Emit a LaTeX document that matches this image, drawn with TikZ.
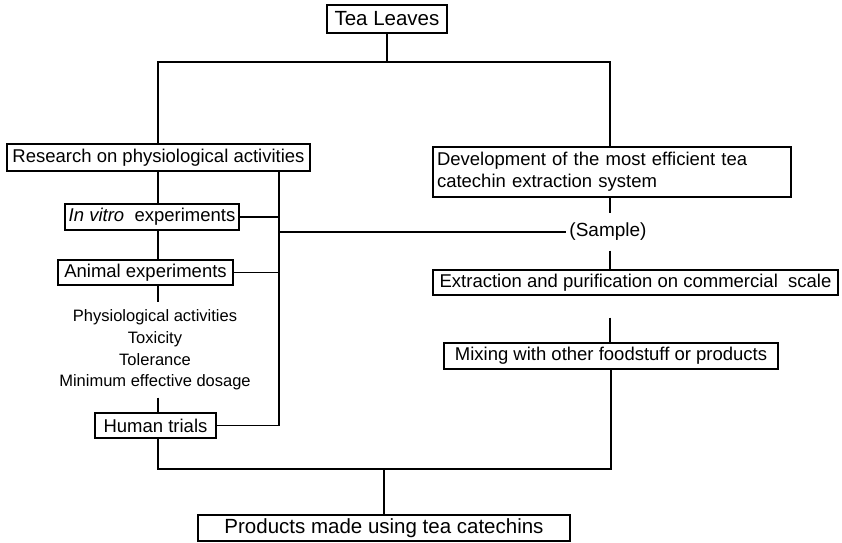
\documentclass[tikz,border=0pt]{standalone}
\usepackage{fontspec}
\setmainfont{Liberation Sans}

\begin{document}
\begin{tikzpicture}[x=1pt,y=-1pt,line width=1.3pt,
    stepbox/.style={draw,inner sep=0pt,font=\fontsize{18.5}{22}\selectfont},
    bigbox/.style={draw,inner sep=0pt,font=\fontsize{20.5}{24}\selectfont}]
                    \useasboundingbox (0,0) rectangle (842,542);
                    \node[bigbox,minimum width=120pt,minimum height=28pt] (tea) at (387,19) {Tea Leaves};
                    \node[stepbox,minimum width=303pt,minimum height=27pt] (research) at (158.5,157.5) {Research on physiological activities};
                    \node[stepbox,text width=350pt,inner xsep=4pt,inner ysep=3pt,align=left,minimum height=50pt] (devel) at (612,172)
                        {Development of the most efficient tea\\catechin extraction system};
                    \node[stepbox,minimum width=174pt,minimum height=26pt] (invitro) at (152,217) {\textit{In vitro}\ \ experiments};
                    \node[stepbox,minimum width=175pt,minimum height=25pt] (animal) at (145.5,272.5) {Animal experiments};
                    \node[align=center,inner sep=0pt,minimum height=94pt,font=\fontsize{16.5}{21.7}\selectfont] (tests) at (155,350)
                        {Physiological activities\\Toxicity\\Tolerance\\Minimum effective dosage};
                    \node[stepbox,minimum width=121pt,minimum height=25pt] (human) at (155.5,425.5) {Human trials};
                    \node[inner xsep=3pt,inner ysep=0pt,minimum height=36pt,font=\fontsize{19}{22}\selectfont] (sample) at (608,232) {(Sample)};
                    \node[stepbox,minimum width=405pt,minimum height=25pt] (extract) at (635.5,282.5) {Extraction and purification on commercial\ \ scale};
                    \node[stepbox,minimum width=334pt,minimum height=26pt] (mixing) at (611,356) {Mixing with other foodstuff or products};
                    \node[bigbox,minimum width=372pt,minimum height=26pt] (products) at (384,528) {Products made using tea catechins};
                    \coordinate (split) at (387,62);
                    \coordinate (bus) at (279,232);
                    \coordinate (merge) at (384,469);
                    \draw (tea) -- (split);
                    \draw (research.north -| 158,0) |- (split) -| (devel.north -| 610,0);
                    \draw (research.south -| 158,0) -- (invitro.north -| 158,0);
                    \draw (invitro.south -| 158,0) -- (animal.north -| 158,0);
                    \draw (animal.south -| 158,0) -- (tests.north -| 158,0);
                    \draw (tests.south -| 158,0) -- (human.north -| 158,0);
                    \draw (research.south -| bus) |- (human.east);
                    \draw (invitro.east) -- (invitro.east -| bus);
                    \draw (animal.east) -- (animal.east -| bus);
                    \draw (bus) -- (bus -| sample.west);
                    \draw (devel.south -| 610,0) -- (sample.north -| 610,0);
                    \draw (sample.south -| 610,0) -- (extract.north -| 610,0);
                    \draw[shorten <=22pt] (extract.south -| 610,0) -- (mixing.north -| 610,0);
                    \draw (human.south -| 158,0) |- (merge) -| (mixing.south);
                    \draw (merge) -- (products.north);
                \end{tikzpicture}
\end{document}
